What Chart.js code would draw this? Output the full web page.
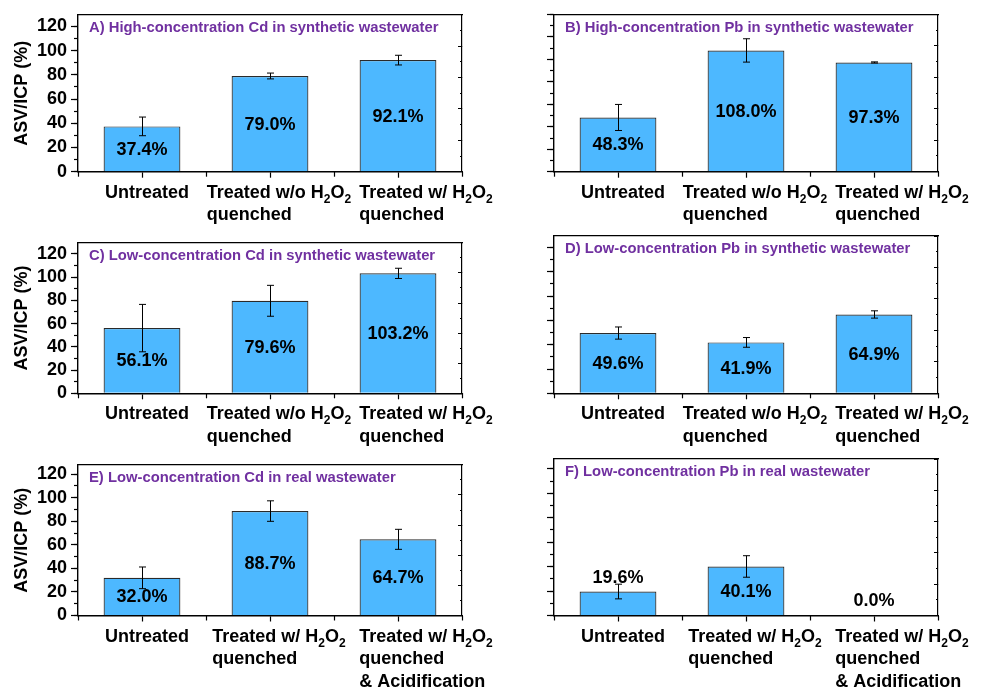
<!DOCTYPE html>
<html><head><meta charset="utf-8">
<script src="https://cdn.jsdelivr.net/npm/chart.js@4.4.0/dist/chart.umd.min.js"></script>
<style>
html,body{margin:0;padding:0;background:#fff;}
#wrap{position:relative;width:982px;height:691px;overflow:hidden;background:#fff;}
#wrap canvas{position:absolute;}
</style></head><body><div id="wrap"></div>
<script>
// ---------- data ----------
const labelsSynthetic = [["Untreated"], ["Treated w/o H₂O₂", "quenched"], ["Treated w/ H₂O₂", "quenched"]];
const labelsReal = [["Untreated"], ["Treated w/ H₂O₂", "quenched"], ["Treated w/ H₂O₂", "quenched", "& Acidification"]];
const panelTitles = [
  "A) High-concentration Cd in synthetic wastewater",
  "B) High-concentration Pb in synthetic wastewater",
  "C) Low-concentration Cd in synthetic wastewater",
  "D) Low-concentration Pb in synthetic wastewater",
  "E) Low-concentration Cd in real wastewater",
  "F) Low-concentration Pb in real wastewater"
];
const yTitle = "ASV/ICP (%)";
const valuesA = [37.4, 79.0, 92.1];  const errorsA = [7.7, 2.4, 4.0];
const valuesB = [48.3, 108.0, 97.3]; const errorsB = [11.6, 10.4, 0.5];
const valuesC = [56.1, 79.6, 103.2]; const errorsC = [20.4, 13.3, 4.4];
const valuesD = [49.6, 41.9, 64.9];  const errorsD = [5.0, 4.0, 3.0];
const valuesE = [32.0, 88.7, 64.7];  const errorsE = [9.2, 8.7, 8.5];
const valuesF = [19.6, 40.1, 0.0];   const errorsF = [6.0, 8.8, 0];
const yMaxes = [129.5, 140, 129.5, 129.5, 128, 128];
const yMajorTicks = [0, 20, 40, 60, 80, 100, 120, 140];
const yMinorTicks = [0, 10, 20, 30, 40, 50, 60, 70, 80, 90, 100, 110, 120, 130, 140];
const rightMajorTicks = [0, 20, 40, 60, 80, 100];
const rightMinorTicks = [0, 10, 20, 30, 40, 50, 60, 70, 80, 90, 100];

// ---------- style / layout ----------
const FONT = "'Liberation Sans', Arial, Helvetica, sans-serif";
Chart.defaults.font.family = FONT;
const BAR_FILL = '#4DB8FF', BAR_EDGE = '#2a2a2a', TITLE_COLOR = '#7030A0';
const cols = [
  {left: 0, width: 520, padRight: 58, showLabels: true},
  {left: 476, width: 506, padRight: 44, showLabels: false}
];
const rows = [
  {top: 0, height: 228, padTop: 14.5, xH: 56.3},
  {top: 228, height: 222, padTop: 8, xH: 56.7},
  {top: 450, height: 241, padTop: 9, xH: 75.5}
];
const labelNudge = [5, 9, 28];
const SUB = '₀₁₂₃₄₅₆₇₈₉';
const MAIN_FONT = `bold 18px ${FONT}`, SUB_FONT = `bold 12px ${FONT}`;

function runs(text) {
  const out = [];
  for (const ch of text) {
    const k = SUB.indexOf(ch), s = k >= 0, c = s ? String(k) : ch;
    if (out.length && out[out.length - 1].sub === s) out[out.length - 1].t += c;
    else out.push({t: c, sub: s});
  }
  return out;
}
function richWidth(ctx, text) {
  let w = 0;
  for (const r of runs(text)) { ctx.font = r.sub ? SUB_FONT : MAIN_FONT; w += ctx.measureText(r.t).width; }
  return w;
}
function drawRich(ctx, text, x, y) {
  for (const r of runs(text)) {
    ctx.font = r.sub ? SUB_FONT : MAIN_FONT;
    ctx.fillText(r.t, x, r.sub ? y + 5 : y);
    x += ctx.measureText(r.t).width;
  }
}

const annotate = {
  id: 'annotate',
  afterDatasetsDraw(chart, args, opts) {
    const ctx = chart.ctx, ys = chart.scales.y, meta = chart.getDatasetMeta(0);
    const ds = chart.data.datasets[0];
    ctx.save();
    ctx.strokeStyle = '#000'; ctx.lineWidth = 1;
    meta.data.forEach((bar, i) => {
      const e = ds.errors[i]; if (!e) return;
      const v = ds.data[i];
      const yT = ys.getPixelForValue(v + e), yB = ys.getPixelForValue(v - e);
      const x = Math.round(bar.x) + 0.5;
      ctx.beginPath();
      ctx.moveTo(x, yT); ctx.lineTo(x, yB);
      ctx.moveTo(x - 3.5, yT); ctx.lineTo(x + 3.5, yT);
      ctx.moveTo(x - 3.5, yB); ctx.lineTo(x + 3.5, yB);
      ctx.stroke();
    });
    ctx.font = MAIN_FONT; ctx.fillStyle = '#000'; ctx.textAlign = 'center'; ctx.textBaseline = 'middle';
    meta.data.forEach((bar, i) => {
      const h = bar.base - bar.y;
      const cy = h < 30 ? bar.y - 14 : (bar.y + bar.base) / 2 + 1;
      ctx.fillText(ds.data[i].toFixed(1) + '%', bar.x, cy);
    });
    ctx.restore();
  },
  afterDraw(chart, args, opts) {
    const ctx = chart.ctx, area = chart.chartArea, xs = chart.scales.x;
    ctx.save();
    ctx.fillStyle = TITLE_COLOR; ctx.font = `bold 14.8px ${FONT}`;
    ctx.textAlign = 'left'; ctx.textBaseline = 'alphabetic';
    ctx.fillText(opts.title, area.left + 11, area.top + 17);
    ctx.fillStyle = '#000';
    chart.data.labels.forEach((lines, i) => {
      const tick = xs.getPixelForValue(i);
      const w1 = richWidth(ctx, lines[0]);
      const x0 = tick + labelNudge[i] - w1 / 2;
      lines.forEach((ln, k) => drawRich(ctx, ln, x0, area.bottom + 26 + k * 22.5));
    });
    ctx.restore();
  }
};

function fixedTicks(list) {
  return (s) => { s.ticks = list.filter(v => v <= s.max + 1e-9).map(v => ({value: v})); };
}

const panels = [
  {values: valuesA, errors: errorsA, labels: labelsSynthetic, col: 0, row: 0},
  {values: valuesB, errors: errorsB, labels: labelsSynthetic, col: 1, row: 0},
  {values: valuesC, errors: errorsC, labels: labelsSynthetic, col: 0, row: 1},
  {values: valuesD, errors: errorsD, labels: labelsSynthetic, col: 1, row: 1},
  {values: valuesE, errors: errorsE, labels: labelsReal, col: 0, row: 2},
  {values: valuesF, errors: errorsF, labels: labelsReal, col: 1, row: 2}
];

const wrap = document.getElementById('wrap');
panels.forEach((p, idx) => {
  const col = cols[p.col], row = rows[p.row];
  const cv = document.createElement('canvas');
  cv.width = col.width; cv.height = row.height;
  cv.style.left = col.left + 'px'; cv.style.top = row.top + 'px';
  cv.style.width = col.width + 'px'; cv.style.height = row.height + 'px';
  wrap.appendChild(cv);
  const axisLine = {display: true, color: '#000', width: 1.4};
  new Chart(cv, {
    type: 'bar',
    data: {
      labels: p.labels,
      datasets: [{
        data: p.values, errors: p.errors,
        backgroundColor: BAR_FILL, borderColor: BAR_EDGE, borderWidth: 1.2,
        barPercentage: 0.6, categoryPercentage: 1, xAxisID: 'x', yAxisID: 'y'
      }]
    },
    options: {
      responsive: false, animation: false, devicePixelRatio: 1,
      layout: {padding: {left: 0, right: col.padRight, top: row.padTop, bottom: 0}},
      plugins: {legend: {display: false}, tooltip: {enabled: false}, annotate: {title: panelTitles[idx]}},
      scales: {
        x: {
          type: 'category', position: 'bottom', weight: 1, offset: true,
          grid: {display: true, drawOnChartArea: false, offset: false, tickLength: 6, tickColor: '#000', tickWidth: 1.2},
          border: axisLine, ticks: {display: false},
          afterFit(s) { s.height = row.xH; }
        },
        xb: {
          type: 'category', position: 'bottom', weight: 0, offset: true,
          grid: {display: true, drawOnChartArea: false, offset: true, tickLength: 5, tickColor: '#000', tickWidth: 1.2},
          border: {display: false}, ticks: {display: false},
          afterFit(s) { s.height = 0; }
        },
        x2: {
          type: 'linear', position: 'top', min: 0, max: 1,
          grid: {display: true, drawOnChartArea: false, drawTicks: false},
          border: {display: true, color: '#000', width: 1.2}, ticks: {display: false},
          afterFit(s) { s.height = 0; }
        },
        y: {
          type: 'linear', position: 'left', weight: 1, min: 0, max: yMaxes[idx],
          ticks: {display: col.showLabels, padding: 4, color: '#000', autoSkip: false,
                  font: {size: 18, weight: 'bold'}},
          afterBuildTicks: fixedTicks(yMajorTicks),
          grid: {display: true, drawOnChartArea: false, tickLength: 7, tickColor: '#000', tickWidth: 1.2},
          border: axisLine,
          title: {display: col.showLabels, text: yTitle, color: '#000', font: {size: 18, weight: 'bold'}, padding: {top: 11, bottom: 0}},
          afterFit(s) { s.width = 78; }
        },
        ym: {
          type: 'linear', position: 'left', weight: 0, min: 0, max: yMaxes[idx],
          ticks: {display: false, autoSkip: false},
          afterBuildTicks: fixedTicks(yMinorTicks),
          grid: {display: true, drawOnChartArea: false, tickLength: 4, tickColor: '#000', tickWidth: 1.2},
          border: {display: false},
          afterFit(s) { s.width = 0; }
        },
        y2: {
          type: 'linear', position: 'right', weight: 0, min: 0, max: 100,
          ticks: {display: false, autoSkip: false},
          afterBuildTicks: fixedTicks(rightMajorTicks),
          grid: {display: true, drawOnChartArea: false, tickLength: -4, tickColor: '#000', tickWidth: 1},
          border: {display: true, color: '#000', width: 1.2},
          afterFit(s) { s.width = 0; }
        },
        y2m: {
          type: 'linear', position: 'right', weight: 1, min: 0, max: 100,
          ticks: {display: false, autoSkip: false},
          afterBuildTicks: fixedTicks(rightMinorTicks),
          grid: {display: true, drawOnChartArea: false, tickLength: -2, tickColor: '#000', tickWidth: 1},
          border: {display: false},
          afterFit(s) { s.width = 0; }
        }
      }
    },
    plugins: [annotate]
  });
});
</script>
</body></html>
